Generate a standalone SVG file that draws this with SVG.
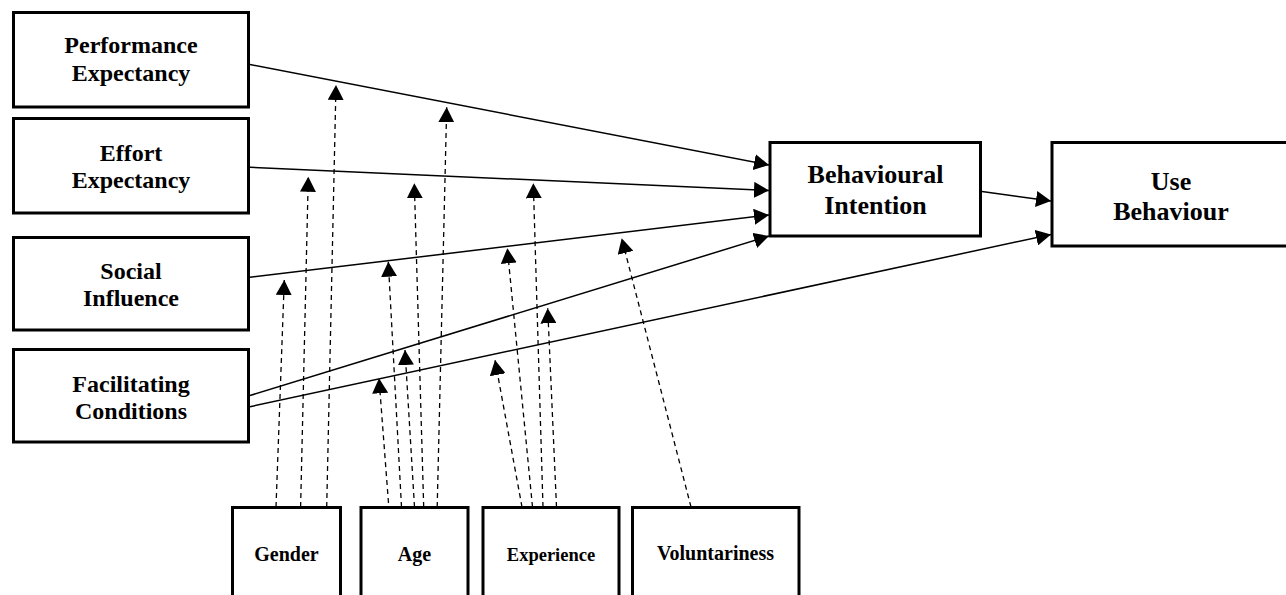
<svg xmlns="http://www.w3.org/2000/svg" width="1286" height="595" viewBox="0 0 1286 595">
<style>
.box{fill:#fff;stroke:#000;stroke-width:3}
.t{font-family:"Liberation Serif","Times New Roman",serif;font-weight:bold;fill:#000;text-anchor:middle}
.l{font-size:24px}
.r{font-size:26px}
.b{font-size:20px}
.s{fill:none;stroke:#000;stroke-width:1.5;marker-end:url(#ah)}
.d{fill:none;stroke:#000;stroke-width:1.3;stroke-dasharray:5,4;marker-end:url(#ah)}
</style>
<defs>
<marker id="ah" markerUnits="userSpaceOnUse" viewBox="0 0 15 16" refX="15" refY="8" markerWidth="15" markerHeight="16" orient="auto">
<path d="M0,0 L15,8 L0,16 Z" fill="#000"/>
</marker>
</defs>
<rect width="1286" height="595" fill="#fff"/>
<g id="pe"><rect class="box" x="13.5" y="12.5" width="235" height="94.5"/><text class="t l" x="131" y="53">Performance</text><text class="t l" x="131" y="81">Expectancy</text></g>
<g id="ee"><rect class="box" x="13.5" y="118.5" width="235" height="94.5"/><text class="t l" x="131" y="161">Effort</text><text class="t l" x="131" y="188">Expectancy</text></g>
<g id="si"><rect class="box" x="13.5" y="237.5" width="235" height="92.5"/><text class="t l" x="131" y="279">Social</text><text class="t l" x="131" y="306">Influence</text></g>
<g id="fc"><rect class="box" x="13.5" y="349.5" width="235" height="92.5"/><text class="t l" x="131" y="392">Facilitating</text><text class="t l" x="131" y="419">Conditions</text></g>
<g id="bi"><rect class="box" x="770" y="142.5" width="210.5" height="93.5"/><text class="t r" x="875.5" y="183">Behavioural</text><text class="t r" x="875.5" y="214">Intention</text></g>
<g id="ub"><rect class="box" x="1052" y="142.5" width="250" height="103.5"/><text class="t r" x="1171" y="190">Use</text><text class="t r" x="1171" y="220">Behaviour</text></g>
<g id="gender"><rect class="box" x="232.5" y="507.5" width="108" height="100"/><text class="t b" x="286.5" y="561">Gender</text></g>
<g id="age"><rect class="box" x="361" y="507.5" width="107" height="100"/><text class="t b" x="414.5" y="561">Age</text></g>
<g id="experience"><rect class="box" x="483" y="507.5" width="136" height="100"/><text class="t" style="font-size:18.5px" x="551" y="561">Experience</text></g>
<g id="voluntariness"><rect class="box" x="632.5" y="507.5" width="166.5" height="100"/><text class="t b" x="715.5" y="560">Voluntariness</text></g>
<g id="connectors">
<line class="s" x1="250" y1="64.5" x2="769" y2="165"/>
<line class="s" x1="250" y1="167.3" x2="769" y2="190.5"/>
<line class="s" x1="250" y1="277.3" x2="769" y2="215"/>
<line class="s" x1="250" y1="395.5" x2="769" y2="236"/>
<line class="s" x1="250" y1="406.7" x2="1051" y2="234.5"/>
<line class="s" x1="982" y1="191.5" x2="1051" y2="201"/>
<line class="d" x1="276" y1="507" x2="284.3" y2="280"/>
<line class="d" x1="300.6" y1="507" x2="308.3" y2="176.7"/>
<line class="d" x1="326.7" y1="507" x2="336" y2="85"/>
<line class="d" x1="388.5" y1="503" x2="379" y2="378.3"/>
<line class="d" x1="414.5" y1="507" x2="405" y2="350"/>
<line class="d" x1="401.5" y1="507" x2="388.3" y2="261.7"/>
<line class="d" x1="423.7" y1="507" x2="414.3" y2="183.3"/>
<line class="d" x1="437.2" y1="507" x2="446.7" y2="107.3"/>
<line class="d" x1="522" y1="507" x2="495" y2="360"/>
<line class="d" x1="532.5" y1="507" x2="507.3" y2="248.3"/>
<line class="d" x1="543" y1="507" x2="533.3" y2="183.3"/>
<line class="d" x1="556.5" y1="507" x2="547.7" y2="308.3"/>
<line class="d" x1="691" y1="507" x2="621.7" y2="238.3"/>
</g>
</svg>
